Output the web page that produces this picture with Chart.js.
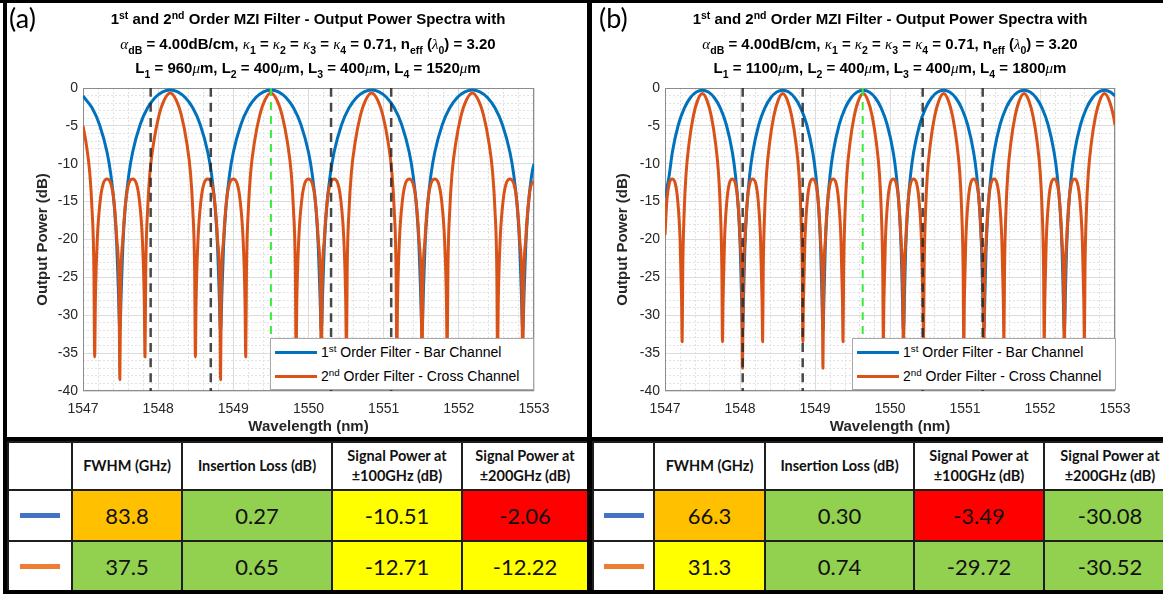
<!DOCTYPE html>
<html>
<head>
<meta charset="utf-8">
<script src="https://cdn.jsdelivr.net/npm/chart.js@4.4.1/dist/chart.umd.min.js"></script>
<style>
    html, body { margin: 0; padding: 0; background: #fff; }
    #page { position: relative; width: 1163px; height: 594px; overflow: hidden; background: #fff;
            font-family: "Liberation Sans", Arial, Helvetica, sans-serif; color: #000; }
    .bar { position: absolute; background: #000; z-index: 5; }
    canvas { position: absolute; top: 3px; }
    .tag { position: absolute; top: 1px; font-family: Lato, "Open Sans", sans-serif; font-size: 27px; z-index: 3; }
    .title { position: absolute; top: 7px; width: 600px; text-align: center; font-weight: bold; font-size: 15px;
             line-height: 24.5px; white-space: nowrap; z-index: 3; }
    .title sup { font-size: 70%; line-height: 0; vertical-align: 0.45em; }
    .title sub { font-size: 70%; line-height: 0; vertical-align: -0.45em; }
    .g { font-family: "Liberation Serif", "DejaVu Serif", serif; font-style: italic; font-weight: normal; }
    .legend { position: absolute; top: 338px; width: 262px; height: 48px; background: #fff;
              border: 1px solid #a8a8a8; font-size: 14px; z-index: 3; padding-top: 2px; }
    .legend .row { position: relative; height: 23.5px; line-height: 23.5px; white-space: nowrap; }
    .legend .line { position: absolute; left: 4px; top: 10px; width: 42px; height: 3px; }
    .legend .txt { position: absolute; left: 50px; top: 0; }
    .legend sup { font-size: 70%; line-height: 0; vertical-align: 0.5em; }
    table { position: absolute; top: 441px; border-collapse: collapse; table-layout: fixed;
            font-family: Lato, "Open Sans", sans-serif; color: #111; z-index: 2; }
    td { border: 2px solid #1e1e1e; padding: 0; text-align: center; vertical-align: middle; }
    tr.head td { height: 46px; font-size: 14.5px; font-weight: bold; line-height: 20px; background: #fff; }
    tr.val td { font-size: 22px; }
    tr.val1 td { height: 49px; }
    tr.val2 td { height: 48px; }
    .sw { width: 40px; height: 5px; margin: 0 auto; }
</style>
</head>
<body>
<div id="page">
    <canvas id="chartA" width="580" height="434" style="left:7px"></canvas>
    <canvas id="chartB" width="571" height="434" style="left:592px"></canvas>
    <div class="tag" style="left:9px">(a)</div>
    <div class="tag" style="left:599px">(b)</div>
    <div class="title" id="titleA" style="left:8px"></div>
    <div class="title" id="titleB" style="left:590px"></div>
    <div class="legend" id="legendA" style="left:270px"></div>
    <div class="legend" id="legendB" style="left:852px"></div>
    <table id="tableA" style="left:7px"></table>
    <table id="tableB" style="left:592px"></table>
    <div class="bar" style="left:0;top:0;width:1163px;height:3px"></div>
    <div class="bar" style="left:3px;top:0;width:4px;height:594px"></div>
    <div class="bar" style="left:587px;top:0;width:5px;height:594px"></div>
    <div class="bar" style="left:3px;top:437px;width:1160px;height:4px"></div>
    <div class="bar" style="left:3px;top:590px;width:1160px;height:4px"></div>
</div>
<script>
// Axis ranges and ticks
const WL_MIN = 1547;
const WL_MAX = 1553;
const DB_MIN = -40;
const DB_MAX = 0;
const xTickLabels = ['1547', '1548', '1549', '1550', '1551', '1552', '1553'];
const yTickLabels = ['0', '-5', '-10', '-15', '-20', '-25', '-30', '-35', '-40'];

const BAR_COLOUR = '#0072BD';
const CROSS_COLOUR = '#D95319';
const seriesOrder = ['1st', '2nd'];
const seriesNames = ['Order Filter - Bar Channel', 'Order Filter - Cross Channel'];

// (a) 1st order filter, bar channel
const barA_wl = [
    1547.00, 1547.12, 1547.22, 1547.32, 1547.37, 1547.42, 1547.45, 1547.47, 1547.49, 1547.51, 1547.53, 1547.56, 1547.61, 1547.66, 1547.76, 1547.86, 1547.96, 1548.06, 1548.16,
    1548.26, 1548.36, 1548.46, 1548.56, 1548.66, 1548.71, 1548.76, 1548.79, 1548.81, 1548.83, 1548.85, 1548.87, 1548.90, 1548.95, 1549.00, 1549.10, 1549.20, 1549.30, 1549.40, 1549.50,
    1549.60, 1549.70, 1549.80, 1549.90, 1550.00, 1550.05, 1550.10, 1550.13, 1550.15, 1550.17, 1550.19, 1550.21, 1550.24, 1550.29, 1550.34, 1550.44, 1550.54, 1550.64, 1550.74, 1550.84,
    1550.94, 1551.04, 1551.14, 1551.24, 1551.34, 1551.39, 1551.44, 1551.47, 1551.49, 1551.51, 1551.53, 1551.55, 1551.58, 1551.63, 1551.68, 1551.78, 1551.88, 1551.98, 1552.08, 1552.18,
    1552.28, 1552.38, 1552.48, 1552.58, 1552.68, 1552.73, 1552.78, 1552.81, 1552.83, 1552.85, 1552.87, 1552.89, 1552.92, 1552.97, 1553.00
];
const barA_db = [
    -1.06, -2.62, -4.84, -8.48, -11.4, -16.0, -20.9, -26.5, -32.0, -26.5, -20.9, -16.0, -11.4, -8.48, -4.84, -2.62, -1.26, -0.51, -0.27,
    -0.51, -1.26, -2.62, -4.84, -8.48, -11.4, -16.0, -20.9, -26.5, -32.0, -26.5, -20.9, -16.0, -11.4, -8.48, -4.84, -2.62, -1.26, -0.51, -0.27,
    -0.51, -1.26, -2.62, -4.84, -8.48, -11.4, -16.0, -20.9, -26.5, -32.0, -26.5, -20.9, -16.0, -11.4, -8.48, -4.84, -2.62, -1.26, -0.51, -0.27,
    -0.51, -1.26, -2.62, -4.84, -8.48, -11.4, -16.0, -20.9, -26.5, -32.0, -26.5, -20.9, -16.0, -11.4, -8.48, -4.84, -2.62, -1.26, -0.51, -0.27,
    -0.51, -1.26, -2.62, -4.84, -8.48, -11.4, -16.0, -20.9, -26.5, -32.0, -26.5, -20.9, -16.0, -11.4, -10.0
];

// (a) 2nd order filter, cross channel
const crossA_wl = [
    1547.00, 1547.04, 1547.09, 1547.12, 1547.145, 1547.155, 1547.165, 1547.19, 1547.23, 1547.27, 1547.32, 1547.37, 1547.41, 1547.45, 1547.48, 1547.49, 1547.50,
    1547.53, 1547.57, 1547.61, 1547.66, 1547.71, 1547.75, 1547.79, 1547.815, 1547.825, 1547.835, 1547.86, 1547.89, 1547.94, 1548.01, 1548.08, 1548.16,
    1548.24, 1548.31, 1548.38, 1548.43, 1548.46, 1548.485, 1548.495, 1548.505, 1548.53, 1548.57, 1548.61, 1548.66, 1548.71, 1548.75, 1548.79, 1548.82, 1548.83,
    1548.84, 1548.87, 1548.91, 1548.95, 1549.00, 1549.05, 1549.09, 1549.13, 1549.155, 1549.165, 1549.175, 1549.20, 1549.23, 1549.28, 1549.35, 1549.42, 1549.50,
    1549.58, 1549.65, 1549.72, 1549.77, 1549.80, 1549.825, 1549.835, 1549.845, 1549.87, 1549.91, 1549.95, 1550.00, 1550.05, 1550.09, 1550.13, 1550.16, 1550.17,
    1550.18, 1550.21, 1550.25, 1550.29, 1550.34, 1550.39, 1550.43, 1550.47, 1550.495, 1550.505, 1550.515, 1550.54, 1550.57, 1550.62, 1550.69, 1550.76, 1550.84,
    1550.92, 1550.99, 1551.06, 1551.11, 1551.14, 1551.165, 1551.175, 1551.185, 1551.21, 1551.25, 1551.29, 1551.34, 1551.39, 1551.43, 1551.47, 1551.50, 1551.51,
    1551.52, 1551.55, 1551.59, 1551.63, 1551.68, 1551.73, 1551.77, 1551.81, 1551.835, 1551.845, 1551.855, 1551.88, 1551.91, 1551.96, 1552.03, 1552.10, 1552.18,
    1552.26, 1552.33, 1552.40, 1552.45, 1552.48, 1552.505, 1552.515, 1552.525, 1552.55, 1552.59, 1552.63, 1552.68, 1552.73, 1552.77, 1552.81, 1552.84, 1552.85,
    1552.86, 1552.89, 1552.93, 1552.97, 1553.00
];
const crossA_db = [
    -5.0, -7.2, -11.2, -16, -24, -35.5, -28, -20, -14.8, -12.6, -12.0, -12.6, -14.8, -20, -27, -38.5, -27,
    -20, -14.8, -12.6, -12.0, -12.6, -14.8, -20, -28, -35.5, -24, -16, -11.2, -7.2, -3.65, -1.6, -0.65,
    -1.6, -3.65, -7.2, -11.2, -16, -24, -35.5, -28, -20, -14.8, -12.6, -12.0, -12.6, -14.8, -20, -27, -38.5,
    -27, -20, -14.8, -12.6, -12.0, -12.6, -14.8, -20, -28, -35.5, -24, -16, -11.2, -7.2, -3.65, -1.6, -0.65,
    -1.6, -3.65, -7.2, -11.2, -16, -24, -35.5, -28, -20, -14.8, -12.6, -12.0, -12.6, -14.8, -20, -27, -38.5,
    -27, -20, -14.8, -12.6, -12.0, -12.6, -14.8, -20, -28, -35.5, -24, -16, -11.2, -7.2, -3.65, -1.6, -0.65,
    -1.6, -3.65, -7.2, -11.2, -16, -24, -35.5, -28, -20, -14.8, -12.6, -12.0, -12.6, -14.8, -20, -27, -38.5,
    -27, -20, -14.8, -12.6, -12.0, -12.6, -14.8, -20, -28, -35.5, -24, -16, -11.2, -7.2, -3.65, -1.6, -0.65,
    -1.6, -3.65, -7.2, -11.2, -16, -24, -35.5, -28, -20, -14.8, -12.6, -12.0, -12.6, -14.8, -20, -27, -38.5,
    -27, -20, -14.8, -12.6, -12.4
];

// (b) 1st order filter, bar channel
const barB_wl = [
    1547.000, 1547.030, 1547.058, 1547.098, 1547.178, 1547.258, 1547.338, 1547.418, 1547.498,
    1547.578, 1547.658, 1547.738, 1547.818, 1547.898, 1547.938, 1547.978, 1548.003, 1548.018, 1548.034, 1548.050, 1548.065, 1548.090, 1548.130, 1548.170, 1548.250, 1548.330, 1548.410, 1548.490, 1548.570,
    1548.650, 1548.730, 1548.810, 1548.890, 1548.970, 1549.010, 1549.050, 1549.075, 1549.090, 1549.106, 1549.122, 1549.137, 1549.162, 1549.202, 1549.242, 1549.322, 1549.402, 1549.482, 1549.562, 1549.643,
    1549.723, 1549.803, 1549.883, 1549.963, 1550.043, 1550.083, 1550.123, 1550.148, 1550.163, 1550.179, 1550.195, 1550.210, 1550.235, 1550.275, 1550.315, 1550.395, 1550.475, 1550.555, 1550.635, 1550.715,
    1550.795, 1550.875, 1550.955, 1551.035, 1551.115, 1551.155, 1551.195, 1551.220, 1551.235, 1551.251, 1551.267, 1551.282, 1551.307, 1551.347, 1551.387, 1551.467, 1551.547, 1551.627, 1551.707, 1551.788,
    1551.868, 1551.948, 1552.028, 1552.108, 1552.188, 1552.228, 1552.268, 1552.293, 1552.308, 1552.324, 1552.340, 1552.355, 1552.380, 1552.420, 1552.460, 1552.540, 1552.620, 1552.700, 1552.780, 1552.860,
    1552.940, 1553.000
];
const barB_db = [
    -14.5, -13.0, -11.4, -8.49, -4.85, -2.65, -1.29, -0.54, -0.30,
    -0.54, -1.29, -2.65, -4.85, -8.49, -11.4, -16.0, -21.0, -26.6, -32.0, -26.6, -21.0, -16.0, -11.4, -8.49, -4.85, -2.65, -1.29, -0.54, -0.30,
    -0.54, -1.29, -2.65, -4.85, -8.49, -11.4, -16.0, -21.0, -26.6, -32.0, -26.6, -21.0, -16.0, -11.4, -8.49, -4.85, -2.65, -1.29, -0.54, -0.30,
    -0.54, -1.29, -2.65, -4.85, -8.49, -11.4, -16.0, -21.0, -26.6, -32.0, -26.6, -21.0, -16.0, -11.4, -8.49, -4.85, -2.65, -1.29, -0.54, -0.30,
    -0.54, -1.29, -2.65, -4.85, -8.49, -11.4, -16.0, -21.0, -26.6, -32.0, -26.6, -21.0, -16.0, -11.4, -8.49, -4.85, -2.65, -1.29, -0.54, -0.30,
    -0.54, -1.29, -2.65, -4.85, -8.49, -11.4, -16.0, -21.0, -26.6, -32.0, -26.6, -21.0, -16.0, -11.4, -8.49, -4.85, -2.65, -1.29, -0.54, -0.30,
    -0.54, -1.05
];

// (b) 2nd order filter, cross channel
const crossB_wl = [
    1547.000, 1547.025, 1547.057, 1547.097, 1547.137, 1547.169, 1547.201, 1547.221, 1547.229, 1547.237, 1547.257, 1547.281, 1547.321, 1547.377, 1547.433, 1547.498,
    1547.562, 1547.618, 1547.674, 1547.714, 1547.738, 1547.758, 1547.766, 1547.774, 1547.794, 1547.826, 1547.858, 1547.898, 1547.938, 1547.970, 1548.002, 1548.026, 1548.034,
    1548.042, 1548.066, 1548.098, 1548.130, 1548.170, 1548.210, 1548.242, 1548.274, 1548.294, 1548.302, 1548.310, 1548.330, 1548.354, 1548.394, 1548.450, 1548.506, 1548.570,
    1548.634, 1548.690, 1548.746, 1548.786, 1548.810, 1548.830, 1548.838, 1548.846, 1548.866, 1548.898, 1548.930, 1548.970, 1549.010, 1549.042, 1549.074, 1549.098, 1549.106,
    1549.114, 1549.138, 1549.170, 1549.202, 1549.242, 1549.282, 1549.314, 1549.346, 1549.366, 1549.374, 1549.382, 1549.402, 1549.426, 1549.466, 1549.522, 1549.578, 1549.643,
    1549.707, 1549.763, 1549.819, 1549.859, 1549.883, 1549.903, 1549.911, 1549.919, 1549.939, 1549.971, 1550.003, 1550.043, 1550.083, 1550.115, 1550.147, 1550.171, 1550.179,
    1550.187, 1550.211, 1550.243, 1550.275, 1550.315, 1550.355, 1550.387, 1550.419, 1550.439, 1550.447, 1550.455, 1550.475, 1550.499, 1550.539, 1550.595, 1550.651, 1550.715,
    1550.779, 1550.835, 1550.891, 1550.931, 1550.955, 1550.975, 1550.983, 1550.991, 1551.011, 1551.043, 1551.075, 1551.115, 1551.155, 1551.187, 1551.219, 1551.243, 1551.251,
    1551.259, 1551.283, 1551.315, 1551.347, 1551.387, 1551.427, 1551.459, 1551.491, 1551.511, 1551.519, 1551.527, 1551.547, 1551.571, 1551.611, 1551.667, 1551.723, 1551.788,
    1551.852, 1551.908, 1551.964, 1552.004, 1552.028, 1552.048, 1552.056, 1552.064, 1552.084, 1552.116, 1552.148, 1552.188, 1552.228, 1552.260, 1552.292, 1552.316, 1552.324,
    1552.332, 1552.356, 1552.388, 1552.420, 1552.460, 1552.500, 1552.532, 1552.564, 1552.584, 1552.592, 1552.600, 1552.620, 1552.644, 1552.684, 1552.740, 1552.796, 1552.860,
    1552.924, 1552.980, 1553.000
];
const crossB_db = [
    -19.4, -14.8, -12.6, -12.0, -12.6, -14.8, -20, -28, -33.5, -24, -16, -11.3, -7.3, -3.75, -1.7, -0.74,
    -1.7, -3.75, -7.3, -11.3, -16, -24, -33.5, -28, -20, -14.8, -12.6, -12.0, -12.6, -14.8, -20, -27, -37,
    -27, -20, -14.8, -12.6, -12.0, -12.6, -14.8, -20, -28, -33.5, -24, -16, -11.3, -7.3, -3.75, -1.7, -0.74,
    -1.7, -3.75, -7.3, -11.3, -16, -24, -33.5, -28, -20, -14.8, -12.6, -12.0, -12.6, -14.8, -20, -27, -37,
    -27, -20, -14.8, -12.6, -12.0, -12.6, -14.8, -20, -28, -33.5, -24, -16, -11.3, -7.3, -3.75, -1.7, -0.74,
    -1.7, -3.75, -7.3, -11.3, -16, -24, -33.5, -28, -20, -14.8, -12.6, -12.0, -12.6, -14.8, -20, -27, -37,
    -27, -20, -14.8, -12.6, -12.0, -12.6, -14.8, -20, -28, -33.5, -24, -16, -11.3, -7.3, -3.75, -1.7, -0.74,
    -1.7, -3.75, -7.3, -11.3, -16, -24, -33.5, -28, -20, -14.8, -12.6, -12.0, -12.6, -14.8, -20, -27, -37,
    -27, -20, -14.8, -12.6, -12.0, -12.6, -14.8, -20, -28, -33.5, -24, -16, -11.3, -7.3, -3.75, -1.7, -0.74,
    -1.7, -3.75, -7.3, -11.3, -16, -24, -33.5, -28, -20, -14.8, -12.6, -12.0, -12.6, -14.8, -20, -27, -37,
    -27, -20, -14.8, -12.6, -12.0, -12.6, -14.8, -20, -28, -33.5, -24, -16, -11.3, -7.3, -3.75, -1.7, -0.74,
    -1.7, -3.75, -4.9
];

// Channel markers: +-100 / +-200 GHz (black dashed) and centre wavelength (green dashed)
const markersA = [1547.9, 1548.7, 1550.3, 1551.1];
const centreA = 1549.5;
const markersB = [1548.036, 1548.836, 1550.436, 1551.236];
const centreB = 1549.636;

// Titles
const titleLine1 = '1<sup>st</sup> and 2<sup>nd</sup> Order MZI Filter - Output Power Spectra with';
const titleLine2 = '<span class="g">α</span><sub>dB</sub> = 4.00dB/cm, <span class="g">κ</span><sub>1</sub> = <span class="g">κ</span><sub>2</sub> = <span class="g">κ</span><sub>3</sub> = <span class="g">κ</span><sub>4</sub> = 0.71, n<sub>eff</sub> (<span class="g">λ</span><sub>0</sub>) = 3.20';
const lengthsA = ['960', '400', '400', '1520'];
const lengthsB = ['1100', '400', '400', '1800'];

// Tables
const tableHeaders = ['', 'FWHM (GHz)', 'Insertion Loss (dB)', 'Signal Power at<br>±100GHz (dB)', 'Signal Power at<br>±200GHz (dB)'];
const swatchColours = ['#4472C4', '#ED7D31'];
const ORANGE = '#FFC000', GREEN = '#92D050', YELLOW = '#FFFF00', RED = '#FF0000';
const tableA_bar = ['83.8', '0.27', '-10.51', '-2.06'];
const tableA_cross = ['37.5', '0.65', '-12.71', '-12.22'];
const tableA_barFill = [ORANGE, GREEN, YELLOW, RED];
const tableA_crossFill = [GREEN, GREEN, YELLOW, YELLOW];
const tableB_bar = ['66.3', '0.30', '-3.49', '-30.08'];
const tableB_cross = ['31.3', '0.74', '-29.72', '-30.52'];
const tableB_barFill = [ORANGE, GREEN, RED, GREEN];
const tableB_crossFill = [YELLOW, GREEN, GREEN, GREEN];
const colWidthsA = [64, 110, 150, 130, 126];
const colWidthsB = [61, 111, 149, 130, 132];

Chart.defaults.font.family = '"Liberation Sans", Arial, Helvetica, sans-serif';
Chart.defaults.color = '#262626';

// Draw the MATLAB-style box around the axes
const axesBox = {
    id: 'axesBox',
    beforeDatasetsDraw(chart) {
        const { ctx, chartArea: a } = chart;
        ctx.save();
        ctx.strokeStyle = '#8c8c8c';
        ctx.lineWidth = 1;
        ctx.strokeRect(a.left + 0.5, a.top + 0.5, a.right - a.left - 1, a.bottom - a.top - 1);
        ctx.restore();
    }
};

function toPoints(wl, db) {
    return wl.map((x, i) => ({ x: x, y: db[i] }));
}

function vline(wl) {
    return [{ x: wl, y: DB_MAX }, { x: wl, y: DB_MIN }];
}

function buildChart(id, p) {
    const datasets = [
        { data: toPoints(p.barWl, p.barDb), borderColor: BAR_COLOUR, borderWidth: 3, order: 2 },
        { data: toPoints(p.crossWl, p.crossDb), borderColor: CROSS_COLOUR, borderWidth: 3, order: 1 }
    ];
    p.markers.forEach(w => datasets.push({
        data: vline(w), borderColor: 'rgba(40, 40, 40, 0.85)', borderWidth: 2.5, borderDash: [9, 6], order: 0
    }));
    datasets.push({ data: vline(p.centre), borderColor: '#3ee83e', borderWidth: 2, borderDash: [8, 6], order: 0 });

    return new Chart(document.getElementById(id), {
        type: 'line',
        data: { datasets: datasets },
        options: {
            responsive: false,
            animation: false,
            events: [],
            layout: { padding: { left: p.padLeft, right: p.padRight, top: 85, bottom: 0 } },
            elements: {
                line: { cubicInterpolationMode: 'monotone', borderJoinStyle: 'round', fill: false },
                point: { radius: 0 }
            },
            plugins: { legend: { display: false }, tooltip: { enabled: false } },
            scales: {
                x: {
                    type: 'linear', position: 'bottom', min: WL_MIN, max: WL_MAX,
                    ticks: {
                        stepSize: 1, padding: 10, font: { size: 14 }, maxRotation: 0, autoSkip: false,
                        callback: (v) => xTickLabels[Math.round(v - WL_MIN)]
                    },
                    grid: { color: '#dcdcdc', drawTicks: false },
                    border: { display: false },
                    title: { display: true, text: 'Wavelength (nm)', font: { size: 15, weight: 'bold' }, padding: { top: 0, bottom: 1 } },
                    afterFit: (s) => { s.height = 46; }
                },
                xMinor: {
                    type: 'linear', position: 'bottom', min: WL_MIN, max: WL_MAX,
                    ticks: { display: false, stepSize: 0.2 },
                    grid: { color: '#e2e2e2', drawTicks: false, z: -2 },
                    border: { display: false, dash: [2, 2] },
                    afterFit: (s) => { s.height = 0; }
                },
                y: {
                    type: 'linear', position: 'left', min: DB_MIN, max: DB_MAX,
                    ticks: {
                        stepSize: 5, padding: 5, font: { size: 14 },
                        callback: (v) => yTickLabels[Math.round((DB_MAX - v) / 5)]
                    },
                    grid: { color: '#dcdcdc', drawTicks: false },
                    border: { display: false },
                    title: { display: true, text: 'Output Power (dB)', font: { size: 15, weight: 'bold' }, padding: { top: p.yTitlePad, bottom: 0 } },
                    afterFit: (s) => { s.width = 60; }
                },
                yMinor: {
                    type: 'linear', position: 'left', min: DB_MIN, max: DB_MAX,
                    ticks: { display: false, stepSize: 1 },
                    grid: { color: '#e2e2e2', drawTicks: false, z: -2 },
                    border: { display: false, dash: [2, 2] },
                    afterFit: (s) => { s.width = 0; }
                }
            }
        },
        plugins: [axesBox]
    });
}

function buildTitle(id, lengths) {
    const line3 = lengths.map((l, i) => 'L<sub>' + (i + 1) + '</sub> = ' + l + '<span class="g">μ</span>m').join(', ');
    document.getElementById(id).innerHTML = titleLine1 + '<br>' + titleLine2 + '<br>' + line3;
}

function buildLegend(id) {
    const colours = [BAR_COLOUR, CROSS_COLOUR];
    document.getElementById(id).innerHTML = seriesOrder.map((o, i) => `
        <div class="row">
            <div class="line" style="background:${colours[i]}"></div>
            <span class="txt">${o.charAt(0)}<sup>${o.slice(1)}</sup> ${seriesNames[i]}</span>
        </div>`).join('');
}

function buildTable(id, widths, rows) {
    const total = widths.reduce((a, b) => a + b, 0);
    const table = document.getElementById(id);
    table.style.width = total + 'px';
    let html = '<colgroup>' + widths.map(w => `<col style="width:${w}px">`).join('') + '</colgroup>';
    html += '<tr class="head">' + tableHeaders.map(h => `<td>${h}</td>`).join('') + '</tr>';
    rows.forEach((r, k) => {
        html += `<tr class="val val${k + 1}"><td><div class="sw" style="background:${swatchColours[k]}"></div></td>`;
        html += r.values.map((v, i) => `<td style="background:${r.fills[i]}">${v}</td>`).join('') + '</tr>';
    });
    table.innerHTML = html;
}

buildChart('chartA', {
    barWl: barA_wl, barDb: barA_db, crossWl: crossA_wl, crossDb: crossA_db,
    markers: markersA, centre: centreA, padLeft: 16, padRight: 53, yTitlePad: 11
});
buildChart('chartB', {
    barWl: barB_wl, barDb: barB_db, crossWl: crossB_wl, crossDb: crossB_db,
    markers: markersB, centre: centreB, padLeft: 13, padRight: 48, yTitlePad: 9
});

buildTitle('titleA', lengthsA);
buildTitle('titleB', lengthsB);
buildLegend('legendA');
buildLegend('legendB');

buildTable('tableA', colWidthsA, [
    { values: tableA_bar, fills: tableA_barFill },
    { values: tableA_cross, fills: tableA_crossFill }
]);
buildTable('tableB', colWidthsB, [
    { values: tableB_bar, fills: tableB_barFill },
    { values: tableB_cross, fills: tableB_crossFill }
]);
</script>
</body>
</html>
